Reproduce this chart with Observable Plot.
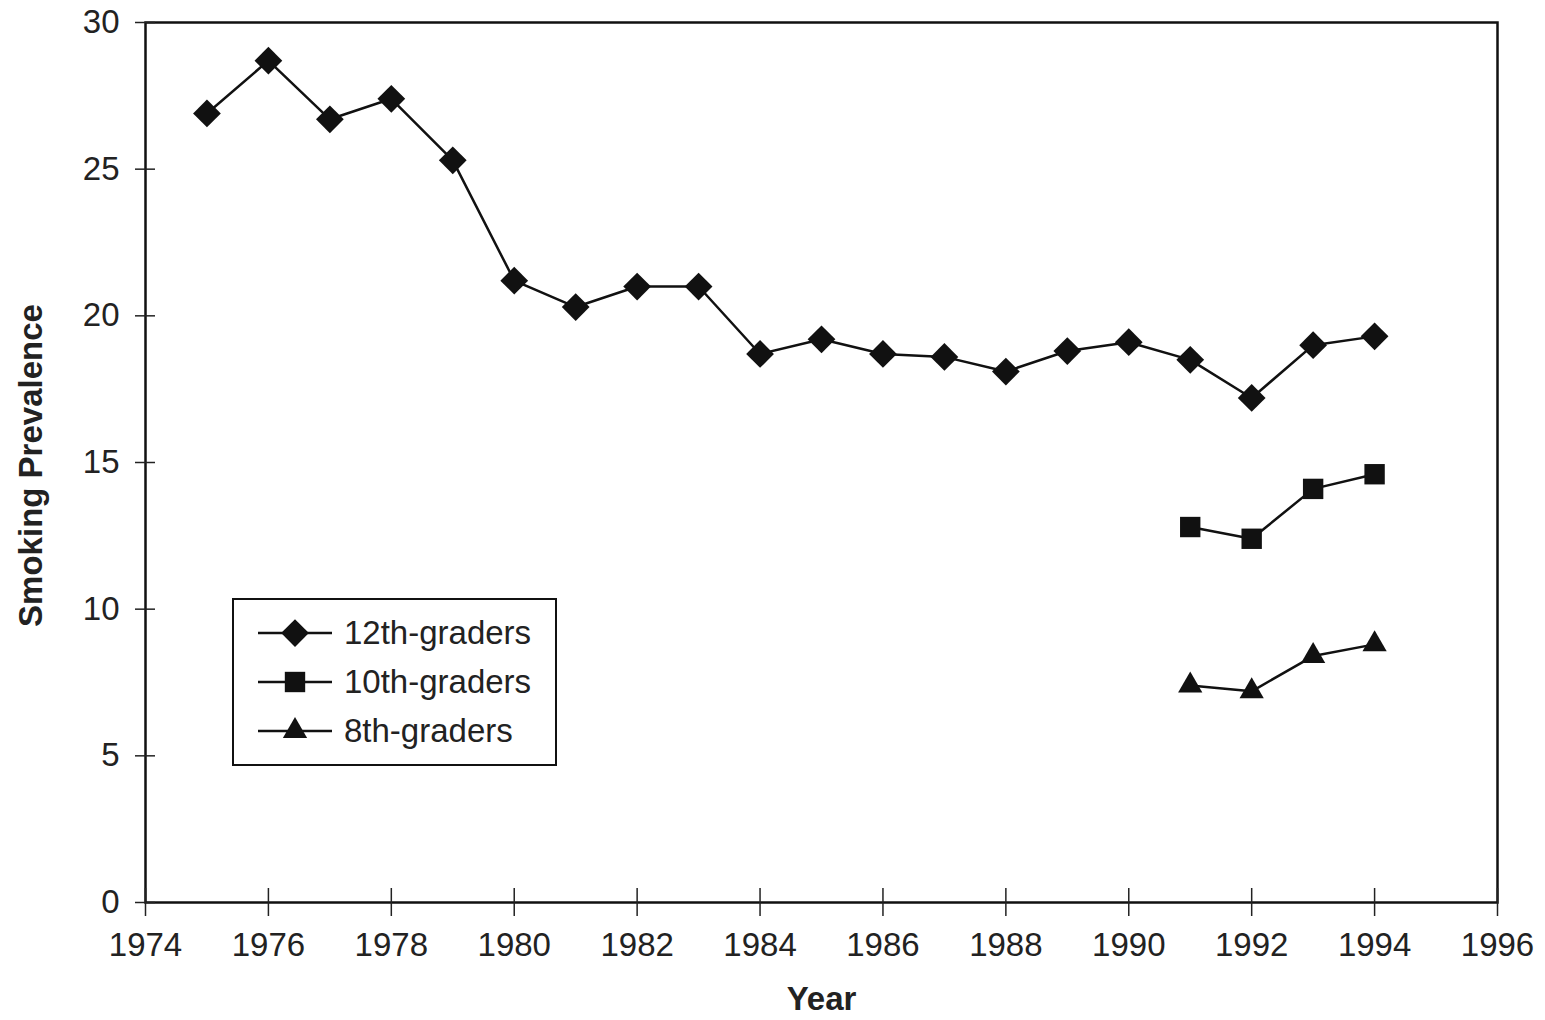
<!DOCTYPE html>
<html>
<head>
<meta charset="utf-8">
<script src="https://cdn.jsdelivr.net/npm/d3@7"></script>
<script src="https://cdn.jsdelivr.net/npm/@observablehq/plot@0.6"></script>
<style>
  html, body { margin: 0; padding: 0; background: #fff; }
  #wrap { position: relative; width: 1545px; height: 1020px; }
  #legend {
    position: absolute; left: 232px; top: 598px; width: 321px; height: 164px;
    border: 2.5px solid #111; box-sizing: content-box; background: #fff;
    font-family: "Liberation Sans", Arial, sans-serif; font-size: 33px; color: #222;
  }
  #legend .row { position: absolute; left: 0; height: 40px; display: flex; align-items: center; white-space: nowrap; }
  #legend svg { display: block; }
  #legend span { margin-left: 12px; }
</style>
</head>
<body>
<div id="wrap"></div>
<script>
// ---- data ----
const years12 = [1975, 1976, 1977, 1978, 1979, 1980, 1981, 1982, 1983, 1984,
                 1985, 1986, 1987, 1988, 1989, 1990, 1991, 1992, 1993, 1994];
const grade12 = [26.9, 28.7, 26.7, 27.4, 25.3, 21.2, 20.3, 21.0, 21.0, 18.7,
                 19.2, 18.7, 18.6, 18.1, 18.8, 19.1, 18.5, 17.2, 19.0, 19.3];
const years810 = [1991, 1992, 1993, 1994];
const grade10 = [12.8, 12.4, 14.1, 14.6];
const grade8 = [7.4, 7.2, 8.4, 8.8];
const xTicks = [1974, 1976, 1978, 1980, 1982, 1984, 1986, 1988, 1990, 1992, 1994, 1996];
const yTicks = [0, 5, 10, 15, 20, 25, 30];
const seriesNames = ["12th-graders", "10th-graders", "8th-graders"];
const seriesSymbols = ["diamond2", "square", "triangle"];
const xLabel = "Year";
const yLabel = "Smoking Prevalence";

const s12 = years12.map((x, i) => ({x, y: grade12[i]}));
const s10 = years810.map((x, i) => ({x, y: grade10[i]}));
const s8 = years810.map((x, i) => ({x, y: grade8[i]}));

const INK = "#111";
const lineOpts = {x: "x", y: "y", stroke: INK, strokeWidth: 2.5};

const chart = Plot.plot({
  width: 1545,
  height: 1020,
  marginLeft: 145,
  marginRight: 48,
  marginTop: 22,
  marginBottom: 118,
  style: {fontFamily: "'Liberation Sans', Arial, sans-serif", fontSize: "33px", color: "#222", background: "#fff"},
  x: {domain: [1974, 1996]},
  y: {domain: [0, 30]},
  marks: [
    Plot.frame({stroke: INK, strokeWidth: 2.5}),
    Plot.axisX({ticks: xTicks, tickFormat: d => String(d), tickSize: 14, tickPadding: 16, strokeWidth: 1.5, label: null}),
    Plot.axisX({ticks: xTicks, tickSize: -14, text: null, strokeWidth: 1.5, label: null}),
    Plot.axisY({ticks: yTicks, tickSize: 10, tickPadding: 16, strokeWidth: 1.5, label: null}),
    Plot.axisY({ticks: yTicks, tickSize: -10, text: null, strokeWidth: 1.5, label: null}),
    Plot.text([xLabel], {frameAnchor: "bottom", dy: 107, text: d => d, fontWeight: "bold", fontSize: 33, fill: "#222"}),
    Plot.text([yLabel], {frameAnchor: "left", textAnchor: "middle", dx: -114, dy: 3, rotate: -90, text: d => d, fontWeight: "bold", fontSize: 33, fill: "#222"}),
    Plot.line(s12, lineOpts),
    Plot.line(s10, lineOpts),
    Plot.line(s8, lineOpts),
    Plot.dot(s12, {x: "x", y: "y", symbol: seriesSymbols[0], r: 12.5, fill: INK}),
    Plot.dot(s10, {x: "x", y: "y", symbol: seriesSymbols[1], r: 11.5, fill: INK}),
    Plot.dot(s8, {x: "x", y: "y", symbol: seriesSymbols[2], r: 9, fill: INK})
  ]
});

const wrap = document.getElementById("wrap");
wrap.appendChild(chart);

// legend (HTML overlay)
const legend = document.createElement("div");
legend.id = "legend";
const symSizes = [12.5, 11.5, 9];
const rowTops = [13, 62, 111];
const symMap = {diamond2: d3.symbolDiamond2, square: d3.symbolSquare, triangle: d3.symbolTriangle};
seriesNames.forEach((name, i) => {
  const row = document.createElement("div");
  row.className = "row";
  row.style.top = rowTops[i] + "px";
  const w = 74, h = 40;
  const r = symSizes[i];
  const path = d3.symbol(symMap[seriesSymbols[i]], r * r * Math.PI)();
  row.innerHTML =
    `<svg width="${w + 24}" height="${h}"><line x1="24" x2="${24 + w}" y1="${h / 2}" y2="${h / 2}" stroke="${INK}" stroke-width="2.5"/>` +
    `<path d="${path}" transform="translate(${24 + w / 2},${h / 2})" fill="${INK}"/></svg>` +
    `<span>${name}</span>`;
  legend.appendChild(row);
});
wrap.appendChild(legend);
</script>
</body>
</html>
